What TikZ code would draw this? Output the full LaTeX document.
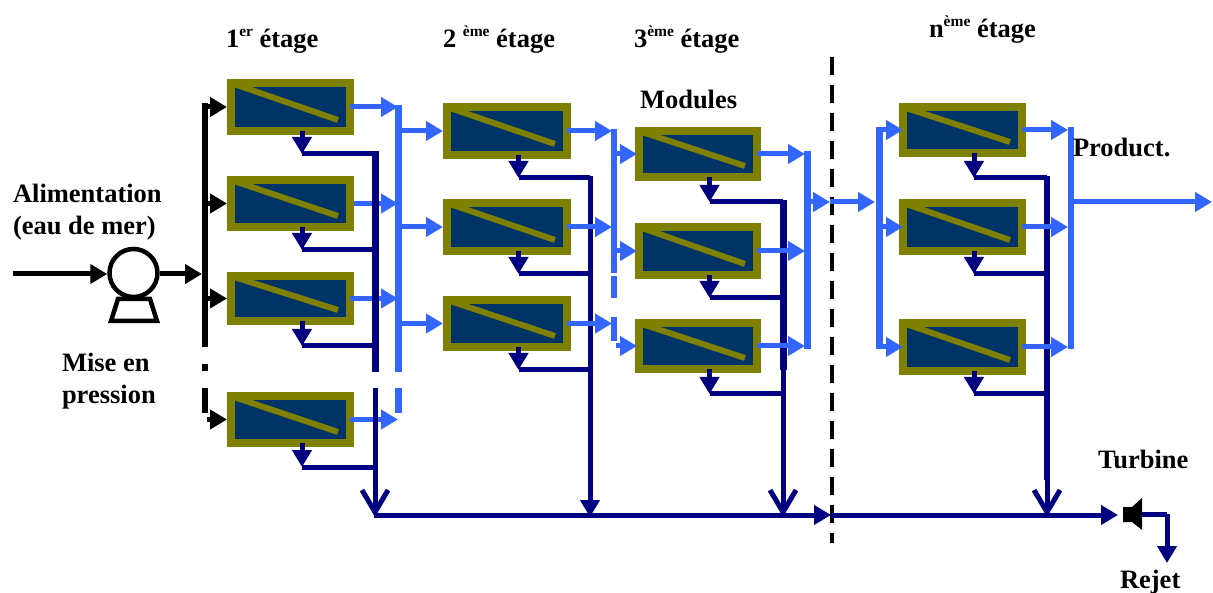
\documentclass[tikz,border=0pt]{standalone}
\usepackage{fontspec}
\setmainfont{Liberation Serif}
\usetikzlibrary{arrows.meta,calc}
\definecolor{modfill}{HTML}{003366}
\definecolor{modedge}{HTML}{808000}
\definecolor{perm}{HTML}{3366FF}
\definecolor{brine}{HTML}{000080}
\newcommand\supr[1]{\raisebox{11pt}{\fontsize{15.5}{16}\selectfont #1}}
\tikzset{
  x=1pt,y=-1pt,
  label/.style={anchor=base west,inner sep=0pt,outer sep=0pt,font=\fontsize{26.5}{28}\bfseries\selectfont,text=black},
  modbox/.style={draw=modedge,fill=modfill,line width=8pt,inner sep=0pt,rectangle},
  modbar/.style={draw=modedge,line width=6pt},
  head/.style={-{Triangle[length=17pt,width=19pt]}},
  barb/.style={-{Straight Barb[length=22pt,width=26pt,line width=5pt]}},
  feedline/.style={draw=black,line width=5pt},
  feedbus/.style={draw=black,line width=6pt},
  permline/.style={draw=perm,line width=5pt},
  permbus/.style={draw=perm,line width=7pt},
  permthin/.style={draw=perm,line width=5.5pt},
  brineline/.style={draw=brine,line width=5pt},
  brinebus/.style={draw=brine,line width=7pt},
  pumpbody/.style={circle,draw=black,fill=white,line width=4.5pt,inner sep=0pt,minimum size=48pt},
  pumpbase/.style={draw=black,line width=4.5pt,line join=miter},
  divider/.style={draw=black,line width=3.5pt,dash pattern=on 18pt off 10pt}
}
% name, left, top, right, bottom
\newcommand\modul[5]{%
  \pgfmathsetmacro\mw{#4-#2-8}\pgfmathsetmacro\mh{#5-#3-8}%
  \pgfmathsetmacro\mx{(#2+#4)/2}\pgfmathsetmacro\my{(#3+#5)/2}%
  \node[modbox,minimum width=\mw pt,minimum height=\mh pt] (#1) at (\mx,\my) {};
  \begin{scope}
    \clip ($(#1.north west)+(4,4)$) rectangle ($(#1.south east)+(-4,-4)$);
    \draw[modbar] ($(#1.north west)+(7,5)$) -- ($(#1.south east)+(-16,-15)$);
  \end{scope}
  \coordinate (#1-b) at ($(#1.south)+(11.5,-4)$);
}
% module, bus coordinate, drop below the module
\newcommand\rejet[3]{%
  \coordinate (#1-j) at ($(#1.south)+(11.5,#3)$);
  \draw[brineline,head] (#1-b) -- (#1-j);
  \draw[brineline] (#1-j) -- (#1-j -| #2);
}
\begin{document}
\begin{tikzpicture}
\useasboundingbox[fill=white] (0,0) rectangle (1213,593);

% modules
\modul{a1}{227}{79}{354}{135}
\modul{a2}{227}{176}{354}{231}
\modul{a3}{227}{272}{354}{325}
\modul{a4}{227}{392}{354}{447}
\modul{b1}{443}{103}{571}{159}
\modul{b2}{443}{199}{571}{255}
\modul{b3}{443}{296}{571}{351}
\modul{c1}{635}{127}{761}{181}
\modul{c2}{635}{223}{761}{279}
\modul{c3}{635}{319}{761}{373}
\modul{n1}{899}{103}{1026}{157}
\modul{n2}{899}{199}{1026}{255}
\modul{n3}{899}{319}{1026}{375}

% named bus points
\coordinate (fA) at (205,103);
\coordinate (fB) at (205,347);
\coordinate (fC) at (205,364);
\coordinate (fD) at (205,371);
\coordinate (fE) at (205,388);
\coordinate (fF) at (205,413);
\coordinate (pA) at (398,105);
\coordinate (pB) at (398,372);
\coordinate (pC) at (398,388);
\coordinate (pD) at (398,413);
\coordinate (qA) at (614,129);
\coordinate (qB) at (614,273);
\coordinate (qC) at (614,276);
\coordinate (qD) at (614,298);
\coordinate (qE) at (614,317);
\coordinate (qF) at (614,341);
\coordinate (rA) at (807,151);
\coordinate (rB) at (807,349);
\coordinate (sA) at (879,127);
\coordinate (sB) at (879,349);
\coordinate (tA) at (1071,127);
\coordinate (tB) at (1071,349);
\coordinate (uA) at (375,151);
\coordinate (uB) at (375,372);
\coordinate (uC) at (375,388);
\coordinate (uD) at (375,515);
\coordinate (vA) at (590,176);
\coordinate (vB) at (590,515);
\coordinate (wA) at (783,200);
\coordinate (wB) at (783,370);
\coordinate (wC) at (783,515);
\coordinate (zA) at (1047,176);
\coordinate (zB) at (1047,515);
\coordinate (dA) at (832,57);
\coordinate (dB) at (832,543);
\coordinate (dC) at (831,515);
\coordinate (dD) at (830,202);
\coordinate (inA) at (13,274);
\coordinate (prodA) at (1071,202);
\coordinate (prodB) at (1212,202);
\coordinate (turA) at (1118,515);
\coordinate (turB) at (1142,514);
\coordinate (turC) at (1167,514);
\coordinate (turD) at (1167,563);

% divider
\draw[divider] (dA) -- (dB);

% feed side
\draw[pumpbase] (118,299) -- (111,321) -- (157,321) -- (150,299) -- cycle;
\node[pumpbody] (pump) at (133.5,273) {};
\draw[feedline,head] (inA) -- (pump.west |- inA);
\draw[feedline,head] (pump.east |- inA) -- ([xshift=-3pt]fA |- inA);
\draw[feedbus] (fA) -- (fB);
\draw[feedbus] (fC) -- (fD);
\draw[feedbus] (fE) -- (fF);
\draw[feedline,head] (fA |- a1.west) -- (a1.west);
\draw[feedline,head] (fA |- a2.west) -- (a2.west);
\draw[feedline,head] (fA |- a3.west) -- (a3.west);
\draw[feedline,head] ([xshift=2pt]fA |- a4.west) -- (a4.west);

% first-stage permeate passes under the brine bus
\draw[permline,head] ([xshift=-4pt]a1.east) -- (a1.east -| pA);
\draw[permline,head] (a2.east) -- (a2.east -| pA);
\draw[permline,head] ([xshift=-4pt]a3.east) -- (a3.east -| pA);
\draw[permline,head] ([xshift=-4pt]a4.east) -- (a4.east -| pA);

% brine
\rejet{a1}{uA}{19}
\rejet{a2}{uA}{19}
\rejet{a3}{uA}{21}
\rejet{a4}{uA}{20}
\draw[brinebus] (uA) -- (uB);
\draw[brineline,barb] (uC) -- ([yshift=-2pt]uD);
\rejet{b1}{vA}{19}
\rejet{b2}{vA}{19}
\rejet{b3}{vA}{19}
\draw[brineline,head] (vA) -- ([yshift=-2pt]vB);
\rejet{c1}{wA}{21}
\rejet{c2}{wA}{19}
\rejet{c3}{wA}{21}
\draw[brinebus] (wA) -- (wB);
\draw[brineline,barb] (wB) -- ([yshift=-2pt]wC);
\rejet{n1}{zA}{21}
\rejet{n2}{zA}{19}
\rejet{n3}{zA}{19}
\draw[brineline,line width=6pt] (zA) -- (zB |- 0,480);
\draw[brineline,barb] (zB |- 0,480) -- ([yshift=-2pt]zB);
\draw[brineline,head] ([xshift=-1pt]uD) -- (dC);
\draw[brineline,head] (dC) -- (turA);

% turbine
\fill[black] (1123,507) -- (1132,507) -- (1142,498) -- (1142,530) -- (1132,522) -- (1123,522) -- cycle;
\draw[brineline] (turB) -- (turC);
\draw[brineline,head] (turC) -- (turD);

% permeate
\draw[permbus] (pA) -- (pB);
\draw[permbus] (pC) -- (pD);
\draw[permline,head] (pA |- b1.west) -- (b1.west);
\draw[permline,head] (pA |- b2.west) -- (b2.west);
\draw[permline,head] (pA |- b3.west) -- (b3.west);
\draw[permline,head] ([xshift=-4pt]b1.east) -- ([xshift=-2pt]b1.east -| qA);
\draw[permline,head] ([xshift=-4pt]b2.east) -- ([xshift=-2pt]b2.east -| qA);
\draw[permline,head] ([xshift=-4pt]b3.east) -- ([xshift=-2pt]b3.east -| qA);
\draw[permthin] (qA) -- (qB);
\draw[permthin] (qC) -- (qD);
\draw[permthin] (qE) -- (qF);
\draw[permline,head] ([xshift=2pt]qA |- c1.west) -- ([xshift=2pt]c1.west);
\draw[permline,head] ([xshift=2pt]qA |- c2.west) -- ([xshift=2pt]c2.west);
\draw[permline,head] ([xshift=2pt]qA |- c3.west) -- ([xshift=2pt]c3.west);
\draw[permline,head] ([xshift=-4pt]c1.east) -- ([xshift=-2pt]c1.east -| rA);
\draw[permline,head] ([xshift=-4pt]c2.east) -- ([xshift=-2pt]c2.east -| rA);
\draw[permline,head] ([xshift=-4pt]c3.east) -- ([xshift=-2pt]c3.east -| rA);
\draw[permbus] (rA) -- (rB);
\draw[permline,head] (rA |- dD) -- (dD);
\draw[permline,head] (dD) -- ([xshift=-4pt]sA |- dD);
\draw[permbus] (sA) -- (sB);
\draw[permline,head] (sA |- n1.west) -- ([xshift=4pt]n1.west);
\draw[permline,head] (sA |- n2.west) -- ([xshift=4pt]n2.west);
\draw[permline,head] (sA |- n3.west) -- ([xshift=4pt]n3.west);
\draw[permline,head] ([xshift=-4pt]n1.east) -- ([xshift=-3pt]n1.east -| tA);
\draw[permline,head] ([xshift=-4pt]n2.east) -- ([xshift=-3pt]n2.east -| tA);
\draw[permline,head] ([xshift=-4pt]n3.east) -- ([xshift=-3pt]n3.east -| tA);
\draw[permthin] (tA) -- (tB);
\draw[permline,head] (prodA) -- (prodB);

% labels
\node[label] (t1) at (226,48) {1\supr{er} étage};
\node[label] (t2) at (443,48) {2 \supr{ème} étage};
\node[label] (t3) at (634,48) {3\supr{ème} étage};
\node[label] (t4) at (929,38) {n\supr{ème} étage};
\node[label] (t5) at (640,109) {Modules};
\node[label] (t6) at (1073,157) {Product.};
\node[label] (t7) at (13,203) {Alimentation};
\node[label] (t8) at (13,235) {(eau de mer)};
\node[label] (t9) at (62,372) {Mise en};
\node[label] (t10) at (62,403) {pression};
\node[label] (t11) at (1098,468) {Turbine};
\node[label] (t12) at (1120,588) {Rejet};
\end{tikzpicture}
\end{document}
